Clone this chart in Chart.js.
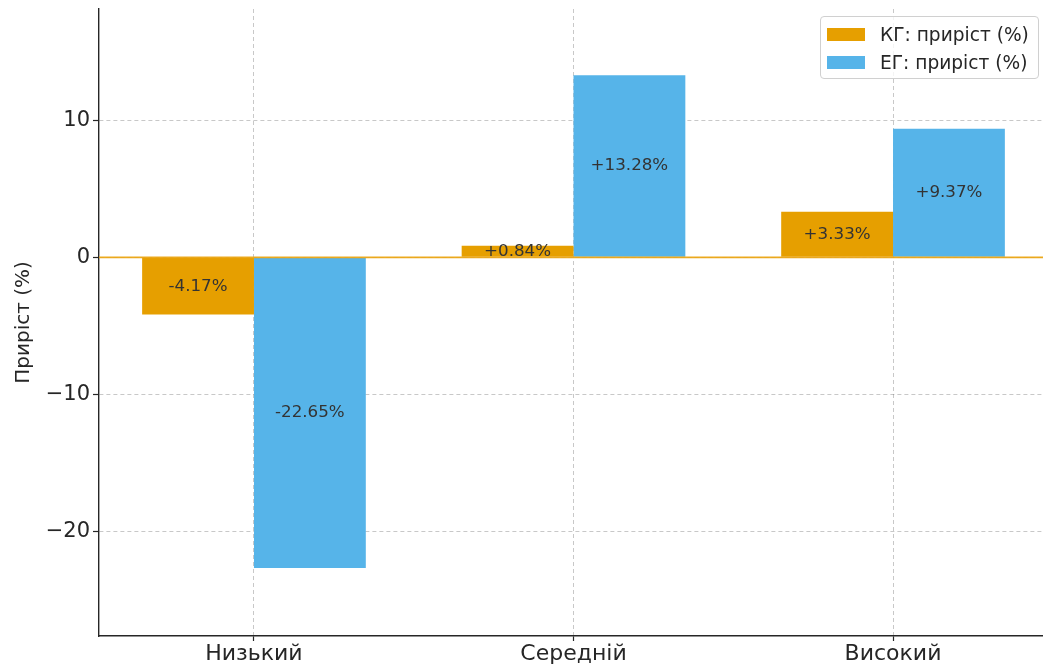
<!DOCTYPE html>
<html lang="uk">
<head>
  <meta charset="UTF-8">
  <title>Приріст (%)</title>
  <script src="https://cdn.jsdelivr.net/npm/chart.js"></script>
  <style>
    body {
      margin: 0;
      background: #ffffff;
      overflow: hidden;
      font-family: 'DejaVu Sans', sans-serif;
    }
    .wrap {
      position: relative;
      width: 1048px;
      height: 666px;
    }
    /* legend sits inside the plot, top right */
    .legend {
      position: absolute;
      left: 820px;
      top: 16px;
      width: 219px;
      height: 63px;
      border: 1px solid #d0d0d0;
      border-radius: 4px;
      background: rgba(255, 255, 255, 0.8);
      box-sizing: border-box;
    }
    .legend .item {
      position: absolute;
      left: 6px;
      height: 22px;
      display: flex;
      align-items: center;
      font-size: 18.6px;
      color: #262626;
      white-space: nowrap;
    }
    .legend .swatch {
      width: 38px;
      height: 13px;
      margin-right: 15px;
    }
  </style>
</head>
<body>
  <div class="wrap">
    <canvas id="growthChart"></canvas>
    <div class="legend" id="legend"></div>
  </div>

  <script>
    // values
    const levels = ['Низький', 'Середній', 'Високий'];
    const kgGrowth = [-4.17, 0.84, 3.33];
    const egGrowth = [-22.65, 13.28, 9.37];
    const yTicks = [-20, -10, 0, 10];

    const orange = '#E69F00';
    const blue = '#56B4E9';
    const gridColor = 'rgba(110, 110, 110, 0.38)';
    const axisColor = '#262626';

    // matplotlib-like margins around the bars
    const xMin = -0.485, xMax = 2.485;
    const yMin = -27.6, yMax = 18.1;

    function fmt(v) {
      return (v > 0 ? '+' : '') + v.toFixed(2) + '%';
    }

    // value text in the middle of each bar
    const barLabels = {
      id: 'barLabels',
      afterDatasetsDraw(chart) {
        const ctx = chart.ctx;
        ctx.save();
        ctx.font = '16.7px "DejaVu Sans"';
        ctx.fillStyle = '#333333';
        ctx.textAlign = 'center';
        ctx.textBaseline = 'middle';
        chart.data.datasets.forEach((ds, i) => {
          chart.getDatasetMeta(i).data.forEach((bar, j) => {
            ctx.fillText(fmt(ds.data[j]), bar.x, (bar.y + bar.base) / 2);
          });
        });
        ctx.restore();
      }
    };

    // orange line at zero, over the bars
    const zeroLine = {
      id: 'zeroLine',
      afterDraw(chart) {
        const ctx = chart.ctx;
        const y = chart.scales.y.getPixelForValue(0);
        ctx.save();
        ctx.strokeStyle = 'rgba(235, 165, 20, 0.95)';
        ctx.lineWidth = 1.8;
        ctx.beginPath();
        ctx.moveTo(chart.chartArea.left, y);
        ctx.lineTo(chart.chartArea.right, y);
        ctx.stroke();
        ctx.restore();
      }
    };

    const chart = new Chart(document.getElementById('growthChart'), {
      type: 'bar',
      data: {
        labels: levels,
        datasets: [
          {
            label: 'КГ: приріст (%)',
            data: kgGrowth,
            backgroundColor: orange
          },
          {
            label: 'ЕГ: приріст (%)',
            data: egGrowth,
            backgroundColor: blue
          }
        ]
      },
      options: {
        responsive: true,
        maintainAspectRatio: false,
        animation: false,
        categoryPercentage: 0.7,
        barPercentage: 1.0,
        layout: {
          padding: { top: 9, left: 0, right: 0, bottom: 0 }
        },
        plugins: {
          legend: { display: false },
          tooltip: { enabled: false }
        },
        scales: {
          x: {
            z: 1,
            offset: true,
            grid: {
              offset: false,
              color: gridColor,
              lineWidth: 1,
              tickLength: 5,
              tickColor: axisColor,
              tickWidth: 1.2
            },
            border: { color: axisColor, width: 1.4, dash: [4, 3] },
            ticks: {
              color: '#262626',
              font: { family: 'DejaVu Sans', size: 22 },
              padding: 0,
              maxRotation: 0
            },
            afterBuildTicks(scale) {
              scale._startValue = xMin;
              scale._valueRange = xMax - xMin;
            },
            afterFit(scale) {
              scale.height = 30;
              scale.paddingLeft = 0;
              scale.paddingRight = 0;
            }
          },
          y: {
            z: 1,
            min: yMin,
            max: yMax,
            grid: {
              color: gridColor,
              lineWidth: 1,
              tickLength: 6,
              tickColor: axisColor,
              tickWidth: 1.2
            },
            border: { color: axisColor, width: 1.4, dash: [4, 3] },
            ticks: {
              color: '#262626',
              font: { family: 'DejaVu Sans', size: 21 },
              padding: 3,
              callback: v => String(v).replace('-', '\u2212')
            },
            afterBuildTicks(scale) {
              scale.ticks = yTicks.map(v => ({ value: v }));
            },
            title: {
              display: true,
              text: 'Приріст (%)',
              color: '#262626',
              font: { family: 'DejaVu Sans', size: 20 },
              padding: { top: 12, bottom: 0 }
            },
            afterFit(scale) {
              scale.width = 99;
              scale.paddingTop = 0;
              scale.paddingBottom = 0;
            }
          }
        }
      },
      plugins: [barLabels, zeroLine]
    });

    // legend built from the datasets
    const legend = document.getElementById('legend');
    chart.data.datasets.forEach((ds, i) => {
      const item = document.createElement('div');
      item.className = 'item';
      item.style.top = (6 + i * 28) + 'px';
      const sw = document.createElement('span');
      sw.className = 'swatch';
      sw.style.background = ds.backgroundColor;
      const txt = document.createElement('span');
      txt.textContent = ds.label;
      item.appendChild(sw);
      item.appendChild(txt);
      legend.appendChild(item);
    });
  </script>
</body>
</html>
